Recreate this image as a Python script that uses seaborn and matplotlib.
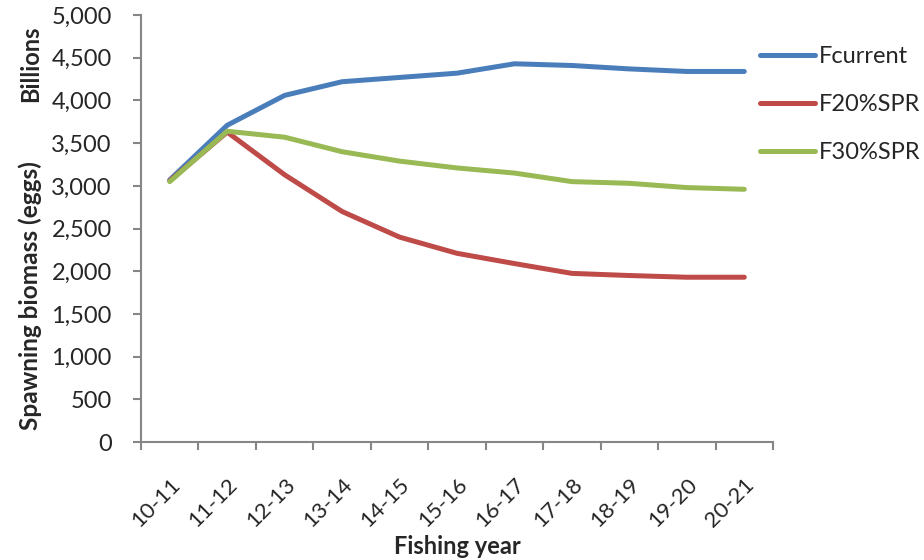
import matplotlib
matplotlib.use("Agg")
import matplotlib.pyplot as plt
import matplotlib.ticker as mticker
import seaborn as sns
import pandas as pd

years = ["10-11", "11-12", "12-13", "13-14", "14-15", "15-16",
         "16-17", "17-18", "18-19", "19-20", "20-21"]
fcurrent = [3070, 3710, 4060, 4220, 4270, 4320, 4430, 4410, 4370, 4340, 4340]
f20spr = [3060, 3630, 3130, 2700, 2400, 2210, 2090, 1975, 1950, 1930, 1930]
f30spr = [3050, 3640, 3570, 3400, 3290, 3210, 3150, 3050, 3030, 2980, 2960]
series_names = ["Fcurrent", "F20%SPR", "F30%SPR"]
colors = ["#4A7EBB", "#BE4B48", "#98B954"]

rows = []
for name, vals in zip(series_names, [fcurrent, f20spr, f30spr]):
    for i, (y, v) in enumerate(zip(years, vals)):
        rows.append({"pos": i, "year": y, "value": v, "series": name})
df = pd.DataFrame(rows)

sns.set_theme(style="white")
plt.rcParams["font.family"] = ["Lato", "DejaVu Sans"]

FS = 17

fig = plt.figure(figsize=(9.24, 5.6), dpi=100)
ax = fig.add_axes([0.1526, 0.2107, 0.684, 0.7623])

sns.lineplot(data=df, x="pos", y="value", hue="series", hue_order=series_names,
             palette=colors, linewidth=3.6, ax=ax, legend=True, sort=False)

ax.set_xlim(-0.5, len(years) - 0.5)
ax.set_ylim(0, 5000)
ax.yaxis.set_major_locator(mticker.MultipleLocator(500))
ax.yaxis.set_major_formatter(mticker.FuncFormatter(lambda v, p: f"{int(v):,}"))

ax.set_xticks(range(len(years)))
ax.set_xticklabels(years, rotation=45, ha="right", rotation_mode="anchor", fontsize=16)
ax.set_xticks([i - 0.5 for i in range(len(years) + 1)], minor=True)
ax.tick_params(axis="x", which="major", length=0, pad=23)
ax.tick_params(axis="x", which="minor", length=6, width=1.5, color="#868686", direction="out", bottom=True)
ax.tick_params(axis="y", which="major", length=6, width=1.5, color="#868686", direction="out", left=True, labelsize=FS, pad=15)

for s in ["top", "right"]:
    ax.spines[s].set_visible(False)
for s in ["left", "bottom"]:
    ax.spines[s].set_color("#868686")
    ax.spines[s].set_linewidth(1.5)

ax.set_xlabel("")
ax.set_ylabel("")
fig.text(0.4945, 1 - 546 / 560, "Fishing year", fontsize=FS, fontweight="bold",
         ha="center", va="center")
fig.text(0.033, 1 - 296 / 560, "Spawning biomass (eggs)", rotation=90, fontsize=17.6,
         fontweight="bold", ha="center", va="center")
fig.text(0.033, 1 - 64 / 560, "Billions", rotation=90, fontsize=FS,
         fontweight="bold", ha="center", va="center")

handles, labels = ax.get_legend_handles_labels()
ax.legend(handles, labels, loc="upper left", bbox_to_anchor=(760 / 924, 1 - 46 / 560),
          bbox_transform=fig.transFigure, frameon=False, fontsize=FS,
          handlelength=2.35, handletextpad=0.15, labelspacing=1.15,
          borderpad=0, borderaxespad=0)

fig.savefig("out.png", dpi=100)
